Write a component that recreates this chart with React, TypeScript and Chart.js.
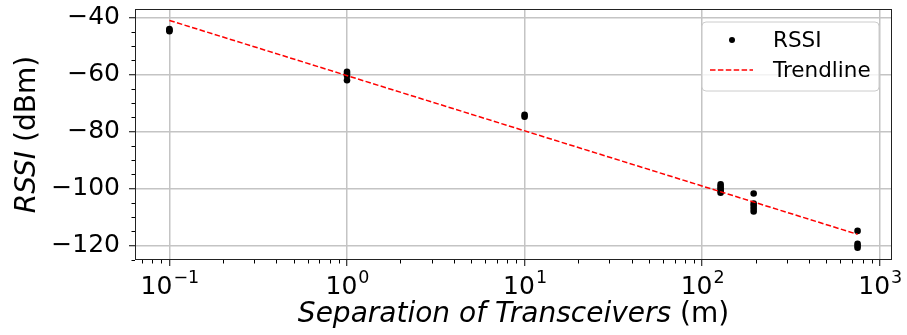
import React, { useEffect, useRef } from 'react';
import { Chart, registerables } from 'chart.js';

Chart.register(...registerables);

// ---- data ----
const sampleDistance = [
  0.1, 0.1, 0.1,
  1, 1, 1, 1,
  10, 10,
  127, 127, 127, 127, 127,
  195, 195, 195, 195, 195,
  750, 750, 750, 750,
];
const sampleRssi = [
  -44, -44.4, -44.8,
  -59, -59.7, -60.4, -62,
  -74.1, -74.8,
  -98.5, -99.3, -100, -100.7, -101.4,
  -101.7, -105.2, -106, -107, -108,
  -114.8, -119.3, -120, -120.7,
];
const trendDistance = [0.1, 750];
const trendRssi = [-41, -116];

const xTickValues = [0.1, 1, 10, 100, 1000];
const xTickBase = '10';
const xTickExponents = ['\u22121', '0', '1', '2', '3'];
const yTickValues = [-120, -100, -80, -60, -40];
const seriesNames = ['RSSI', 'Trendline'];
const xAxisTitleParts = ['Separation of Transceivers', ' (m)'];
const yAxisTitleParts = ['RSSI', ' (dBm)'];

// ---- layout / style ----
const W = 907;
const H = 335;
const AREA = { left: 135, right: 892, top: 9, bottom: 260 };
const FONT = 'DejaVu Sans';
const GRID = '#c4c4c4';

function drawMixed(ctx: CanvasRenderingContext2D, parts: string[], size: number, cx: number, baseY: number) {
  const fonts = [`italic ${size}px "${FONT}"`, `${size}px "${FONT}"`];
  const widths = parts.map((p, i) => {
    ctx.font = fonts[i];
    return ctx.measureText(p).width;
  });
  const total = widths.reduce((a, b) => a + b, 0);
  let x = cx - total / 2;
  ctx.textBaseline = 'alphabetic';
  ctx.textAlign = 'left';
  parts.forEach((p, i) => {
    ctx.font = fonts[i];
    ctx.fillText(p, x, baseY);
    x += widths[i];
  });
}

const decorPlugin = {
  id: 'decor',
  afterDraw(chart: any) {
    const ctx: CanvasRenderingContext2D = chart.ctx;
    const { left, right, top, bottom } = chart.chartArea;
    const xs = chart.scales.x;
    const ys = chart.scales.y;
    ctx.save();
    // frame
    ctx.strokeStyle = '#222';
    ctx.lineWidth = 1;
    ctx.strokeRect(left + 0.5, top + 0.5, right - left - 1, bottom - top - 1);

    // minor ticks
    ctx.beginPath();
    for (let d = -2; d <= 3; d++) {
      for (let m = 2; m <= 9; m++) {
        const v = m * Math.pow(10, d);
        if (v < xs.min || v > xs.max) continue;
        const px = Math.round(xs.getPixelForValue(v)) + 0.5;
        ctx.moveTo(px, bottom);
        ctx.lineTo(px, bottom + 3.5);
      }
    }
    for (let v = -125; v <= -35; v += 5) {
      if (v % 20 === 0 || v < ys.min || v > ys.max) continue;
      const py = Math.round(ys.getPixelForValue(v)) + 0.5;
      ctx.moveTo(left, py);
      ctx.lineTo(left - 3.5, py);
    }
    ctx.strokeStyle = '#000';
    ctx.lineWidth = 1;
    ctx.stroke();

    // x tick labels: 10 with raised exponent, placed on the scale's ticks
    ctx.fillStyle = '#000';
    ctx.textBaseline = 'alphabetic';
    ctx.textAlign = 'left';
    xs.ticks.forEach((t: any) => {
      const i = xTickValues.findIndex((v) => Math.abs(v - t.value) < 1e-9 * Math.max(1, v));
      if (i < 0) return;
      const px = xs.getPixelForValue(t.value);
      ctx.font = `25px "${FONT}"`;
      const bw = ctx.measureText(xTickBase).width;
      ctx.font = `17.5px "${FONT}"`;
      const ew = ctx.measureText(xTickExponents[i]).width;
      const x0 = px - (bw + ew) / 2;
      ctx.font = `25px "${FONT}"`;
      ctx.fillText(xTickBase, x0, 294);
      ctx.font = `17.5px "${FONT}"`;
      ctx.fillText(xTickExponents[i], x0 + bw + 1, 283);
    });

    // axis titles
    drawMixed(ctx, xAxisTitleParts, 28, (left + right) / 2, 322);
    ctx.save();
    ctx.translate(35, (top + bottom) / 2);
    ctx.rotate(-Math.PI / 2);
    drawMixed(ctx, yAxisTitleParts, 28, 0, 0);
    ctx.restore();

    // legend
    const lx = 702, ly = 22, lw = 177, lh = 69, r = 4;
    ctx.beginPath();
    ctx.moveTo(lx + r, ly);
    ctx.lineTo(lx + lw - r, ly);
    ctx.quadraticCurveTo(lx + lw, ly, lx + lw, ly + r);
    ctx.lineTo(lx + lw, ly + lh - r);
    ctx.quadraticCurveTo(lx + lw, ly + lh, lx + lw - r, ly + lh);
    ctx.lineTo(lx + r, ly + lh);
    ctx.quadraticCurveTo(lx, ly + lh, lx, ly + lh - r);
    ctx.lineTo(lx, ly + r);
    ctx.quadraticCurveTo(lx, ly, lx + r, ly);
    ctx.closePath();
    ctx.fillStyle = 'rgba(255,255,255,0.8)';
    ctx.fill();
    ctx.strokeStyle = '#cccccc';
    ctx.lineWidth = 1;
    ctx.stroke();

    const dsPts = chart.data.datasets[1];
    const dsTrend = chart.data.datasets[0];
    ctx.fillStyle = dsPts.backgroundColor;
    ctx.beginPath();
    ctx.arc(732, 40, 3, 0, Math.PI * 2);
    ctx.fill();
    ctx.strokeStyle = dsTrend.borderColor;
    ctx.lineWidth = dsTrend.borderWidth;
    ctx.setLineDash(dsTrend.borderDash);
    ctx.beginPath();
    ctx.moveTo(710, 70);
    ctx.lineTo(753, 70);
    ctx.stroke();
    ctx.setLineDash([]);

    ctx.fillStyle = '#000';
    ctx.font = `21.5px "${FONT}"`;
    ctx.textAlign = 'left';
    ctx.textBaseline = 'middle';
    ctx.fillText(seriesNames[0], 773, 41);
    ctx.fillText(seriesNames[1], 773, 71);
    ctx.restore();
  },
};

export default function App() {
  const ref = useRef<HTMLCanvasElement | null>(null);

  useEffect(() => {
    if (!ref.current) return;
    const points = sampleDistance.map((d, i) => ({ x: d, y: sampleRssi[i] }));
    const trend = trendDistance.map((d, i) => ({ x: d, y: trendRssi[i] }));
    const chart = new Chart(ref.current, {
      type: 'scatter',
      data: {
        datasets: [
          {
            label: seriesNames[1],
            data: trend,
            showLine: true,
            borderColor: '#ff0000',
            borderWidth: 1.5,
            borderDash: [5.5, 2.4],
            pointRadius: 0,
            fill: false,
            order: 0,
          } as any,
          {
            label: seriesNames[0],
            data: points,
            backgroundColor: '#000000',
            borderColor: '#000000',
            borderWidth: 0,
            pointRadius: 3.3,
            order: 1,
          },
        ],
      },
      options: {
        responsive: false,
        animation: false,
        devicePixelRatio: 1,
        layout: { padding: { left: 0, top: AREA.top, right: W - AREA.right, bottom: 0 } },
        plugins: { legend: { display: false }, tooltip: { enabled: false } },
        scales: {
          x: {
            type: 'logarithmic',
            position: 'bottom',
            min: 0.064,
            max: 1172,
            afterBuildTicks: (s: any) => {
              s.ticks = xTickValues.map((v) => ({ value: v }));
            },
            afterFit: (s: any) => {
              s.height = H - AREA.bottom;
              s.paddingLeft = 0;
              s.paddingRight = 0;
              s.paddingTop = 0;
              s.paddingBottom = 0;
            },
            ticks: { display: false },
            grid: {
              color: GRID,
              lineWidth: 1.5,
              drawTicks: true,
              tickLength: 6,
              tickColor: '#000',
              tickWidth: 1,
            },
            border: { display: false },
          },
          y: {
            type: 'linear',
            position: 'left',
            min: -125,
            max: -37,
            afterBuildTicks: (s: any) => {
              s.ticks = yTickValues.map((v) => ({ value: v }));
            },
            afterFit: (s: any) => {
              s.width = AREA.left;
              s.paddingLeft = 0;
              s.paddingRight = 0;
              s.paddingTop = 0;
              s.paddingBottom = 0;
            },
            ticks: {
              padding: 9,
              color: '#000',
              font: { family: FONT, size: 25 },
              callback: (v: any) => (Number(v) < 0 ? '\u2212' + Math.abs(Number(v)) : String(v)),
            },
            grid: {
              color: GRID,
              lineWidth: 1.5,
              drawTicks: true,
              tickLength: 6,
              tickColor: '#000',
              tickWidth: 1,
            },
            border: { display: false },
          },
        },
      },
      plugins: [decorPlugin],
    });
    return () => chart.destroy();
  }, []);

  return (
    <div style={{ position: 'absolute', left: 0, top: 0, width: W, height: H, background: '#fff' }}>
      <canvas ref={ref} width={W} height={H} style={{ width: W, height: H, display: 'block' }} />
    </div>
  );
}
